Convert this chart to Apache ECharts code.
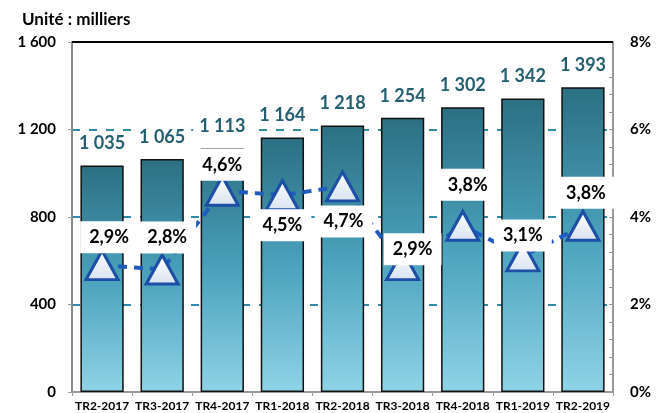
<!DOCTYPE html>
<html>
<head>
<meta charset="utf-8">
<script src="https://cdn.jsdelivr.net/npm/echarts@6/dist/echarts.min.js"></script>
<style>
  html, body { margin: 0; padding: 0; background: #fff; }
  #chart { width: 657px; height: 413px; }
</style>
</head>
<body>
<div id="chart"></div>
<script>
// données
const categories = ['TR2-2017', 'TR3-2017', 'TR4-2017', 'TR1-2018', 'TR2-2018', 'TR3-2018', 'TR4-2018', 'TR1-2019', 'TR2-2019'];
const effectifs = [1035, 1065, 1113, 1164, 1218, 1254, 1302, 1342, 1393];
const evolution = [2.9, 2.8, 4.6, 4.5, 4.7, 2.9, 3.8, 3.1, 3.8];

const FONT = 'Lato, "Open Sans", sans-serif';

function fmtMilliers(v) {
  return String(v).replace(/\B(?=(\d{3})+(?!\d))/g, ' ');
}
function fmtPct(v) {
  return v.toFixed(1).replace('.', ',') + '%';
}

// décalage des étiquettes de la courbe par rapport au triangle
const pctLabelOffset = [
  [7, -28], [5, -32], [0, -26], [0, 30], [1, 35],
  [10, -16], [5, -41], [0, -21], [3, -33]
];

const chart = echarts.init(document.getElementById('chart'));

chart.setOption({
  animation: false,
  textStyle: { fontFamily: FONT },
  graphic: [{
    type: 'text',
    left: 22,
    top: 11,
    style: { text: 'Unité : milliers', font: 'bold 17px ' + FONT, fill: '#000' }
  }],
  grid: { left: 72, right: 44, top: 42, bottom: 21, containLabel: false },
  xAxis: {
    type: 'category',
    data: categories,
    axisLine: { lineStyle: { color: '#999', width: 2 } },
    axisTick: { show: true, length: 4, lineStyle: { color: '#999', width: 1 } },
    axisLabel: { color: '#000', fontWeight: 'bold', fontSize: 12, margin: 8, interval: 0 }
  },
  yAxis: [{
    type: 'value',
    min: 0, max: 1600, interval: 400,
    axisLine: { show: true, lineStyle: { color: '#888', width: 2 } },
    axisTick: { show: true, length: 4, lineStyle: { color: '#999' } },
    axisLabel: {
      color: '#000', fontWeight: 'bold', fontSize: 15, margin: 16,
      formatter: fmtMilliers
    },
    splitLine: { show: true, lineStyle: { color: '#2e8caa', width: 2, type: [8, 9] } }
  }, {
    type: 'value',
    min: 0, max: 8, interval: 2,
    axisLine: { show: true, lineStyle: { color: '#999', width: 2 } },
    axisTick: { show: true, inside: true, length: 4, lineStyle: { color: '#999' } },
    minorTick: { show: true, splitNumber: 5, length: 4, lineStyle: { color: '#999' } },
    axisLabel: {
      color: '#000', fontWeight: 'bold', fontSize: 15, margin: 17,
      formatter: v => v + '%'
    },
    splitLine: { show: false }
  }],
  series: [{
    name: 'Effectifs',
    type: 'bar',
    data: effectifs,
    barWidth: '72%',
    itemStyle: {
      color: new echarts.graphic.LinearGradient(0, 0, 0, 1, [
        { offset: 0, color: '#2c6f82' },
        { offset: 0.5, color: '#4aa2bc' },
        { offset: 1, color: '#8fd3e6' }
      ]),
      borderColor: '#111',
      borderWidth: 1.5
    },
    label: {
      show: true,
      position: 'top',
      distance: 11,
      color: '#235f70',
      fontWeight: 'bold',
      fontSize: 18,
      backgroundColor: '#fff',
      padding: [2, 6],
      formatter: p => fmtMilliers(p.value)
    },
    markLine: {
      silent: true,
      symbol: 'none',
      label: { show: false },
      lineStyle: { color: '#000', width: 2, type: 'solid' },
      data: [{ yAxis: 1600 }]
    },
    z: 2
  }, {
    name: 'Évolution',
    type: 'line',
    yAxisIndex: 1,
    data: evolution.map((v, i) => ({
      value: v,
      label: { offset: pctLabelOffset[i] }
    })),
    symbol: 'triangle',
    symbolSize: [32, 29],
    lineStyle: { color: '#1f5bbf', width: 4, type: [9, 7] },
    itemStyle: {
      color: new echarts.graphic.LinearGradient(0, 0, 0, 1, [
        { offset: 0, color: '#ffffff' },
        { offset: 1, color: '#d8e2ef' }
      ]),
      borderColor: '#1d4fa6',
      borderWidth: 3
    },
    label: {
      show: true,
      position: 'inside',
      color: '#000',
      fontWeight: 'bold',
      fontSize: 18,
      backgroundColor: '#fff',
      padding: [7, 9],
      formatter: p => fmtPct(p.value)
    },
    z: 5
  }]
});
</script>
</body>
</html>
